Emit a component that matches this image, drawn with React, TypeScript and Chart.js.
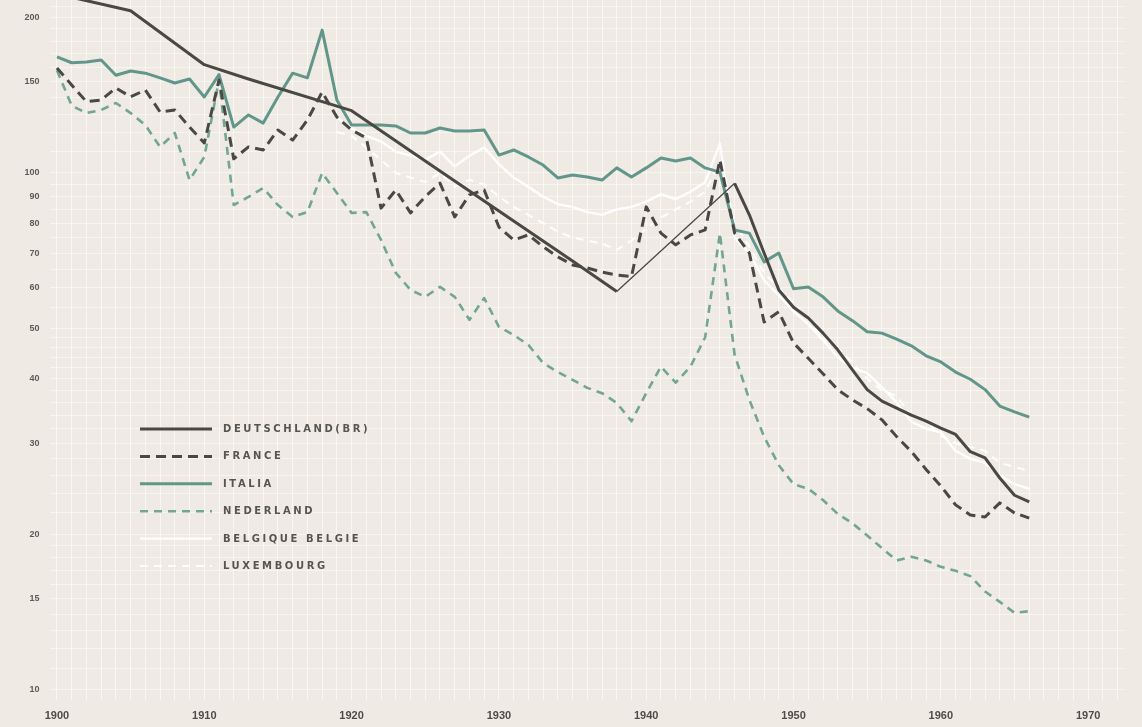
import React, { useEffect, useRef } from "react";
import { Chart, registerables } from "chart.js";

Chart.register(...registerables);

// ---------- data ----------
const YEARS_ANNUAL = [
  1900, 1901, 1902, 1903, 1904, 1905, 1906, 1907, 1908, 1909,
  1910, 1911, 1912, 1913, 1914, 1915, 1916, 1917, 1918, 1919,
  1920, 1921, 1922, 1923, 1924, 1925, 1926, 1927, 1928, 1929,
  1930, 1931, 1932, 1933, 1934, 1935, 1936, 1937, 1938, 1939,
  1940, 1941, 1942, 1943, 1944, 1945, 1946, 1947, 1948, 1949,
  1950, 1951, 1952, 1953, 1954, 1955, 1956, 1957, 1958, 1959,
  1960, 1961, 1962, 1963, 1964, 1965, 1966,
];

const YEARS_FROM_1919 = [
  1919, 1920, 1921, 1922, 1923, 1924, 1925, 1926, 1927, 1928, 1929,
  1930, 1931, 1932, 1933, 1934, 1935, 1936, 1937, 1938, 1939,
  1940, 1941, 1942, 1943, 1944, 1945, 1946, 1947, 1948, 1949,
  1950, 1951, 1952, 1953, 1954, 1955, 1956, 1957, 1958, 1959,
  1960, 1961, 1962, 1963, 1964, 1965, 1966,
];

const DE_YEARS = [
  1900, 1905, 1910, 1913, 1920, 1925, 1930, 1935, 1938,
  1946, 1947, 1948, 1949, 1950, 1951, 1952, 1953, 1954, 1955,
  1956, 1957, 1958, 1959, 1960, 1961, 1962, 1963, 1964, 1965, 1966,
];
const DE_VALUES = [
  222, 206, 162, 152, 132, 105.5, 84.4, 67.6, 59,
  95.5, 83, 70, 59.4, 55, 52.4, 49, 45.5, 41.6, 38.1,
  36.2, 35.1, 34, 33.1, 32.1, 31.2, 28.9, 28.1, 25.7, 23.8, 23.1,
];

const FR_VALUES = [
  159.6, 148, 137.4, 138.4, 146, 140.4, 144.7, 131.2, 132.4, 122.7,
  114.3, 151.3, 106.5, 112.3, 110.8, 121.1, 115.8, 126.6, 143.4, 128.3,
  121.1, 116.9, 85.5, 92.7, 83.7, 90, 95.6, 82.2, 90.7, 92.7,
  78.6, 74.2, 75.9, 72, 68.8, 66.4, 65.5, 64.3, 63.5, 63,
  86, 76.5, 72.6, 75.9, 77.6, 106, 76.5, 70, 51.5, 53.9,
  46.9, 43.8, 40.9, 38.1, 36.4, 35, 33.3, 30.9, 28.9, 26.7,
  24.8, 22.8, 21.8, 21.6, 23, 22, 21.5,
];

const IT_VALUES = [
  167.7, 163.4, 164, 165.4, 154.6, 157.5, 156, 152.8, 149.3, 152,
  140.3, 155, 122.7, 129.5, 124.9, 140.3, 156, 152.8, 189, 138.4,
  123.8, 123.8, 123.8, 123.3, 119.5, 119.5, 122.2, 120.6, 120.6, 121.1,
  108.3, 110.8, 107.4, 103.6, 97.8, 99.1, 98.2, 96.9, 102.3, 98.2,
  102.3, 106.9, 105.5, 106.9, 102.3, 100.4, 77.6, 76.5, 67.3, 70,
  59.7, 60.2, 57.6, 54.1, 51.8, 49.3, 49, 47.7, 46.3, 44.3,
  43.1, 41.2, 39.9, 38.1, 35.4, 34.5, 33.7,
];

const NL_VALUES = [
  158, 135, 130.6, 132.4, 136.6, 130.6, 123.8, 112.3, 119.5, 96.9,
  107.4, 151.3, 86.7, 89.9, 93.5, 86.7, 82.2, 84, 100, 91.5,
  83.7, 84, 74.2, 64.1, 59.4, 57.6, 60.2, 57.6, 52, 57.3,
  50.4, 48.6, 46.5, 42.9, 41.2, 39.8, 38.4, 37.5, 35.9, 33.1,
  37.5, 42.2, 39.3, 42.2, 48.1, 76.5, 44.5, 36.4, 30.9, 27.2,
  25, 24.5, 23.3, 21.9, 21, 19.9, 18.8, 17.8, 18.1, 17.8,
  17.3, 17, 16.6, 15.5, 14.8, 14.1, 14.2,
];

const BE_VALUES = [
  128, 122, 118, 115, 110, 108, 106, 110, 103, 108, 112,
  104, 98, 94, 90, 87, 86, 84, 83, 85, 86,
  88, 91, 89, 92, 96, 114, 75, 70, 62, 58,
  54, 51, 47.5, 44, 42, 41, 38.5, 36, 33, 32,
  31.5, 29, 28, 27.5, 26, 25, 24.5,
];

const LU_VALUES = [
  120, 118, 112, 106, 100, 98, 96, 100, 94, 97, 95,
  90, 86, 83, 80, 77, 75, 74, 73, 71, 74,
  78, 82, 85, 88, 92, 105, 80, 72, 64, 60,
  56, 52, 48, 46, 43, 40, 38, 37, 34, 33,
  31, 30, 29.5, 29, 27.5, 27, 26.5,
];

const SERIES_LABELS = [
  "DEUTSCHLAND(BR)",
  "FRANCE",
  "ITALIA",
  "NEDERLAND",
  "BELGIQUE BELGIE",
  "LUXEMBOURG",
];

const X_TICK_LABELS = [1900, 1910, 1920, 1930, 1940, 1950, 1960, 1970];
const Y_TICK_LABELS = [10, 15, 20, 30, 40, 50, 60, 70, 80, 90, 100, 150, 200];

// ---------- style ----------
const DARK = "#4a4845";
const TEAL = "#63968a";
const TEAL_LIGHT = "#73a595";
const WHITE = "rgba(255,255,255,0.9)";
const BG = "#efebe4";
const GRID_X = "rgba(255,255,255,0.6)";
const GRID_Y = "rgba(255,255,255,0.5)";

function pts(xs: number[], ys: number[]) {
  return xs.map((x, i) => ({ x, y: ys[i] }));
}

function gridYears() {
  const out: number[] = [];
  for (let y = 1900; y <= 1972; y++) out.push(y);
  return out;
}

function gridValues() {
  const out: number[] = [];
  for (let v = 10; v < 20; v += 1) out.push(v);
  for (let v = 20; v < 50; v += 2) out.push(v);
  for (let v = 50; v < 100; v += 5) out.push(v);
  for (let v = 100; v < 200; v += 10) out.push(v);
  out.push(200, 210);
  return out;
}

const bgPlugin = {
  id: "bgPaper",
  beforeDraw(chart: any) {
    const { ctx, width, height } = chart;
    ctx.save();
    ctx.fillStyle = BG;
    ctx.fillRect(0, 0, width, height);
    ctx.restore();
  },
};

const legendPlugin = {
  id: "paperLegend",
  afterDatasetsDraw(chart: any) {
    const { ctx } = chart;
    const x0 = 140;
    const x1 = 212;
    const tx = 223;
    const y0 = 429;
    const dy = 27.4;
    ctx.save();
    chart.data.datasets.forEach((ds: any, i: number) => {
      const y = y0 + i * dy;
      ctx.beginPath();
      ctx.strokeStyle = ds.borderColor;
      ctx.lineWidth = ds.borderWidth;
      ctx.setLineDash(ds.borderDash || []);
      ctx.moveTo(x0, y);
      ctx.lineTo(x1, y);
      ctx.stroke();
      ctx.setLineDash([]);
      ctx.fillStyle = "#575552";
      ctx.font = 'bold 10px "DejaVu Sans"';
      (ctx as any).letterSpacing = "2.6px";
      ctx.textBaseline = "middle";
      ctx.textAlign = "left";
      ctx.fillText(ds.label, tx, y + 0.5);
      (ctx as any).letterSpacing = "0px";
    });
    ctx.restore();
  },
};

export default function App() {
  const ref = useRef<HTMLCanvasElement | null>(null);

  useEffect(() => {
    if (!ref.current) return;
    const GRID_YEARS = gridYears();
    const GRID_VALUES = gridValues();

    const chart = new Chart(ref.current, {
      type: "line",
      data: {
        datasets: [
          {
            label: SERIES_LABELS[0],
            data: pts(DE_YEARS, DE_VALUES),
            borderColor: DARK,
            borderWidth: 3,
            segment: {
              borderWidth: (c: any) =>
                c.p0.parsed.x === 1938 ? 1.3 : undefined,
            },
          },
          {
            label: SERIES_LABELS[1],
            data: pts(YEARS_ANNUAL, FR_VALUES),
            borderColor: DARK,
            borderWidth: 3,
            borderDash: [10, 6],
          },
          {
            label: SERIES_LABELS[2],
            data: pts(YEARS_ANNUAL, IT_VALUES),
            borderColor: TEAL,
            borderWidth: 3,
          },
          {
            label: SERIES_LABELS[3],
            data: pts(YEARS_ANNUAL, NL_VALUES),
            borderColor: TEAL_LIGHT,
            borderWidth: 2.6,
            borderDash: [8, 6],
          },
          {
            label: SERIES_LABELS[4],
            data: pts(YEARS_FROM_1919, BE_VALUES),
            borderColor: WHITE,
            borderWidth: 2.4,
          },
          {
            label: SERIES_LABELS[5],
            data: pts(YEARS_FROM_1919, LU_VALUES),
            borderColor: WHITE,
            borderWidth: 2,
            borderDash: [8, 6],
          },
        ] as any,
      },
      options: {
        animation: false,
        responsive: false,
        maintainAspectRatio: false,
        layout: { padding: { left: 0, right: 17, top: 0, bottom: 0 } },
        elements: {
          point: { radius: 0, hoverRadius: 0 },
          line: { tension: 0, borderCapStyle: "butt", borderJoinStyle: "round" },
        },
        plugins: {
          legend: { display: false },
          tooltip: { enabled: false },
          title: { display: false },
        },
        scales: {
          x: {
            type: "linear",
            min: 1899.5,
            max: 1972.5,
            bounds: "data",
            border: { display: false },
            grid: { color: GRID_X, lineWidth: 1, drawTicks: false },
            ticks: {
              autoSkip: false,
              maxRotation: 0,
              minRotation: 0,
              padding: 9,
              color: "#4e4c48",
              font: { family: "Liberation Sans", size: 11, weight: "bold" },
              callback: (v: any) =>
                X_TICK_LABELS.includes(Number(v)) ? String(v) : "",
            },
            afterBuildTicks: (s: any) => {
              s.ticks = GRID_YEARS.map((v) => ({ value: v }));
            },
            afterFit: (s: any) => {
              s.height = 27;
              s.paddingLeft = 0;
              s.paddingRight = 0;
            },
          },
          y: {
            type: "logarithmic",
            min: 9.56,
            max: 216.1,
            bounds: "data",
            border: { display: false },
            grid: { color: GRID_Y, lineWidth: 1, drawTicks: false },
            ticks: {
              autoSkip: false,
              padding: 10,
              color: "#5e5c58",
              font: { family: "Liberation Sans", size: 9, weight: "bold" },
              callback: (v: any) =>
                Y_TICK_LABELS.includes(Number(v)) ? String(v) : "",
            },
            afterBuildTicks: (s: any) => {
              s.ticks = GRID_VALUES.map((v) => ({ value: v }));
            },
            afterFit: (s: any) => {
              s.width = 49.6;
              s.paddingTop = 0;
              s.paddingBottom = 0;
            },
          },
        },
      } as any,
      plugins: [bgPlugin, legendPlugin],
    });

    return () => chart.destroy();
  }, []);

  return (
    <div
      style={{
        position: "fixed",
        left: 0,
        top: 0,
        width: 1142,
        height: 727,
        background: BG,
      }}
    >
      <canvas
        ref={ref}
        width={1142}
        height={727}
        style={{ display: "block", width: 1142, height: 727 }}
      />
    </div>
  );
}
